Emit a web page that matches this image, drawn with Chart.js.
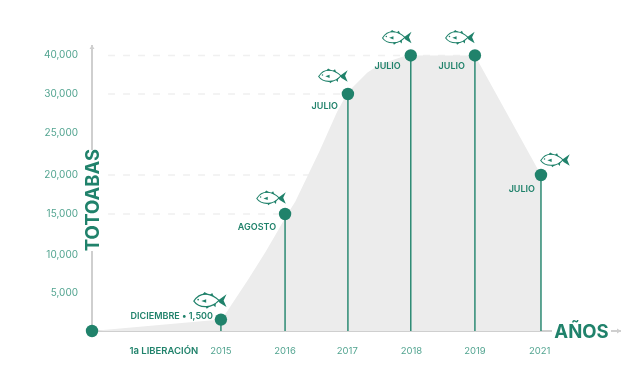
<!DOCTYPE html>
<html><head><meta charset="utf-8">
<style>html,body{margin:0;padding:0;background:#fff}canvas{display:block}</style>
<script src="https://cdn.jsdelivr.net/npm/chart.js@4/dist/chart.umd.min.js"></script>
</head><body><canvas id="c" width="640" height="383"></canvas>
<script>
const releaseLabels = ['2015','2016','2017','2018','2019','2021'];
const releaseSlots = [2.01,3.01,3.99,4.97,5.97,7];
const releaseValues = [1500,15000,30000,40000,40000,20000];
const releaseMonths = ['DICIEMBRE • 1,500','AGOSTO','JULIO','JULIO','JULIO','JULIO'];
const yTickValues = [5000,10000,15000,20000,25000,30000,40000];
const gridValues = [15000,20000,30000,40000];
const areaSlots =  [0,2.01,2.1,2.43,2.7,2.9,3.01,3.17,3.55,3.82,3.99,4.29,4.49,4.9,5.97,7];
const areaValues = [0,1500,2500,6700,10300,13000,14500,16600,22900,27700,30500,35500,37700,40000,40000,20000];
const firstLabel = '1a LIBERACIÓN';

const GREEN='#20826b', LIGHT='#52a490', FONT='Inter';

// Axis in the reference is not linear: its tick spacing varies by value.
const axisStops=[[0,0],[5000,.1333],[10000,.2667],[15000,.4105],[20000,.5474],[25000,.6947],[30000,.8316],[40000,.9667]];
class StepScale extends Chart.LinearScale{
  getPixelForValue(v){
    if(v===null||v===undefined)return NaN;
    for(let i=1;i<axisStops.length;i++){
      const a=axisStops[i-1],b=axisStops[i];
      if(v<=b[0])return this.getPixelForDecimal(a[1]+(v-a[0])/(b[0]-a[0])*(b[1]-a[1]));
    }
    return this.getPixelForDecimal(.9667);
  }
}
StepScale.id='stepscale';StepScale.defaults={};
Chart.register(StepScale);

const fishBody=new Path2D('M-15 0.5C-12.5 -3.5 -8 -6.5 -3 -6C1.5 -5.4 5.5 -3 8.5 -0.2C5.5 3 1.5 5.4 -3 5.6C-8 5.9 -12.5 4.2 -15 0.5Z');
const fishFill=new Path2D('M7.5 -0.2L15.5 -6L12.8 -0.2L15.5 6L9 2Z M-7 -5.8L-5 -8L-1.5 -5.6Z M0 -5.4L2.2 -7L3.6 -3.6Z M-4 5.4L-3 7.6L0.5 5Z M3 4.2L5.2 6.2L5.6 2.2Z M-8 0.4L-3.5 -1.2L-3.5 2Z');
function fish(ctx,x,y,s){
  ctx.save();ctx.translate(x,y);ctx.scale(s,s);
  ctx.strokeStyle=GREEN;ctx.fillStyle=GREEN;ctx.lineWidth=1.1;
  ctx.stroke(fishBody);ctx.fill(fishFill);
  ctx.beginPath();ctx.arc(-11,-1,.8,0,7);ctx.fill();
  ctx.restore();
}
const fishOffset=[[-11,-19,1.07],[-14,-16,.95],[-15,-18,.95],[-14,-18,.95],[-15,-18,.95],[14,-15,.95]];
const monthOffset=[[-8,-3.5],[-9,13],[-10,12],[-10,11],[-10,11],[-6,14]];

const decor={id:'decor',
  afterDatasetsDraw(ch){
    const c=ch.ctx,x=ch.scales.x,y=ch.scales.y;
    const x0=x.getPixelForValue(0),y0=y.getPixelForValue(0);
    c.save();
    c.fillStyle='#cfcfcf';
    c.beginPath();c.moveTo(x0-2.5,y.top+3);c.lineTo(x0,y.top-1);c.lineTo(x0+2.5,y.top+3);c.fill();
    c.beginPath();c.moveTo(x.right-3,y0-2.5);c.lineTo(x.right+1,y0);c.lineTo(x.right-3,y0+2.5);c.fill();
    c.fillStyle='#fff';
    c.fillRect(x0-12,150,24,101);
    c.fillRect(552,y0-10,59,20);
    c.fillStyle=GREEN;
    c.font='700 18.5px '+FONT;c.textAlign='center';c.textBaseline='middle';
    c.save();c.translate(x0+1,200);c.rotate(-Math.PI/2);c.fillText('TOTOABAS',0,0);c.restore();
    c.fillText('AÑOS',581.5,y0+1);
    c.font='600 9px '+FONT;c.textAlign='right';
    releaseValues.forEach((v,i)=>{
      const px=x.getPixelForValue(releaseSlots[i]),py=y.getPixelForValue(v);
      c.fillStyle=GREEN;
      c.fillText(releaseMonths[i],px+monthOffset[i][0],py+monthOffset[i][1]);
      fish(c,px+fishOffset[i][0],py+fishOffset[i][1],fishOffset[i][2]);
    });
    c.restore();
  }
};

const stems=releaseValues.map((v,i)=>({type:'line',data:[{x:releaseSlots[i],y:0},{x:releaseSlots[i],y:v}],
  borderColor:'#2c8a73',borderWidth:1.5,pointRadius:0,order:2,fill:false}));
const dashes=gridValues.map(v=>{
  const end=releaseSlots[releaseValues.lastIndexOf(v)];
  return {type:'line',data:[{x:.25,y:v},{x:end,y:v}],borderColor:'#f0f0f0',borderWidth:1.5,borderDash:[7,8],pointRadius:0,order:5,fill:false};
});
const xTickSlots=[1.12,2.01,3.01,3.98,4.98,5.97,6.98];
const xTickText=[firstLabel,...releaseLabels];

new Chart(document.getElementById('c'),{
  type:'line',
  data:{datasets:[
    {data:areaSlots.map((s,i)=>({x:s,y:areaValues[i]})),borderWidth:0,borderColor:'transparent',backgroundColor:'#ececec',fill:'origin',pointRadius:0,tension:0,order:4},
    ...dashes,...stems,
    {data:[{x:0,y:0},...releaseValues.map((v,i)=>({x:releaseSlots[i],y:v}))],showLine:false,pointRadius:6.2,pointBackgroundColor:GREEN,pointBorderWidth:0,order:1,clip:false}
  ]},
  plugins:[decor],
  options:{
    responsive:false,animation:false,
    layout:{padding:{top:46,right:20,left:0,bottom:0}},
    plugins:{legend:{display:false},tooltip:{enabled:false}},
    scales:{
      x:{type:'linear',min:0,max:8.232,
        grid:{display:false,drawTicks:false},
        border:{color:'#cfcfcf',width:2},
        afterBuildTicks(s){s.ticks=xTickSlots.map(value=>({value}));},
        afterFit(s){s.height=52;},
        ticks:{autoSkip:false,maxRotation:0,padding:14,
          callback:(v,i)=>xTickText[i],
          color:c=>c.index===0?GREEN:LIGHT,
          font:c=>({family:FONT,size:9.5,weight:c.index===0?'600':'400'})}
      },
      y:{type:'stepscale',min:0,max:42000,
        grid:{display:false,drawTicks:false},
        border:{color:'#cfcfcf',width:2},
        afterBuildTicks(s){s.ticks=yTickValues.map(value=>({value}));},
        afterFit(s){s.width=92;},
        ticks:{autoSkip:false,padding:14,color:LIGHT,font:{family:FONT,size:10},
          callback:v=>v.toLocaleString('en-US')}
      }
    }
  }
});
</script></body></html>
